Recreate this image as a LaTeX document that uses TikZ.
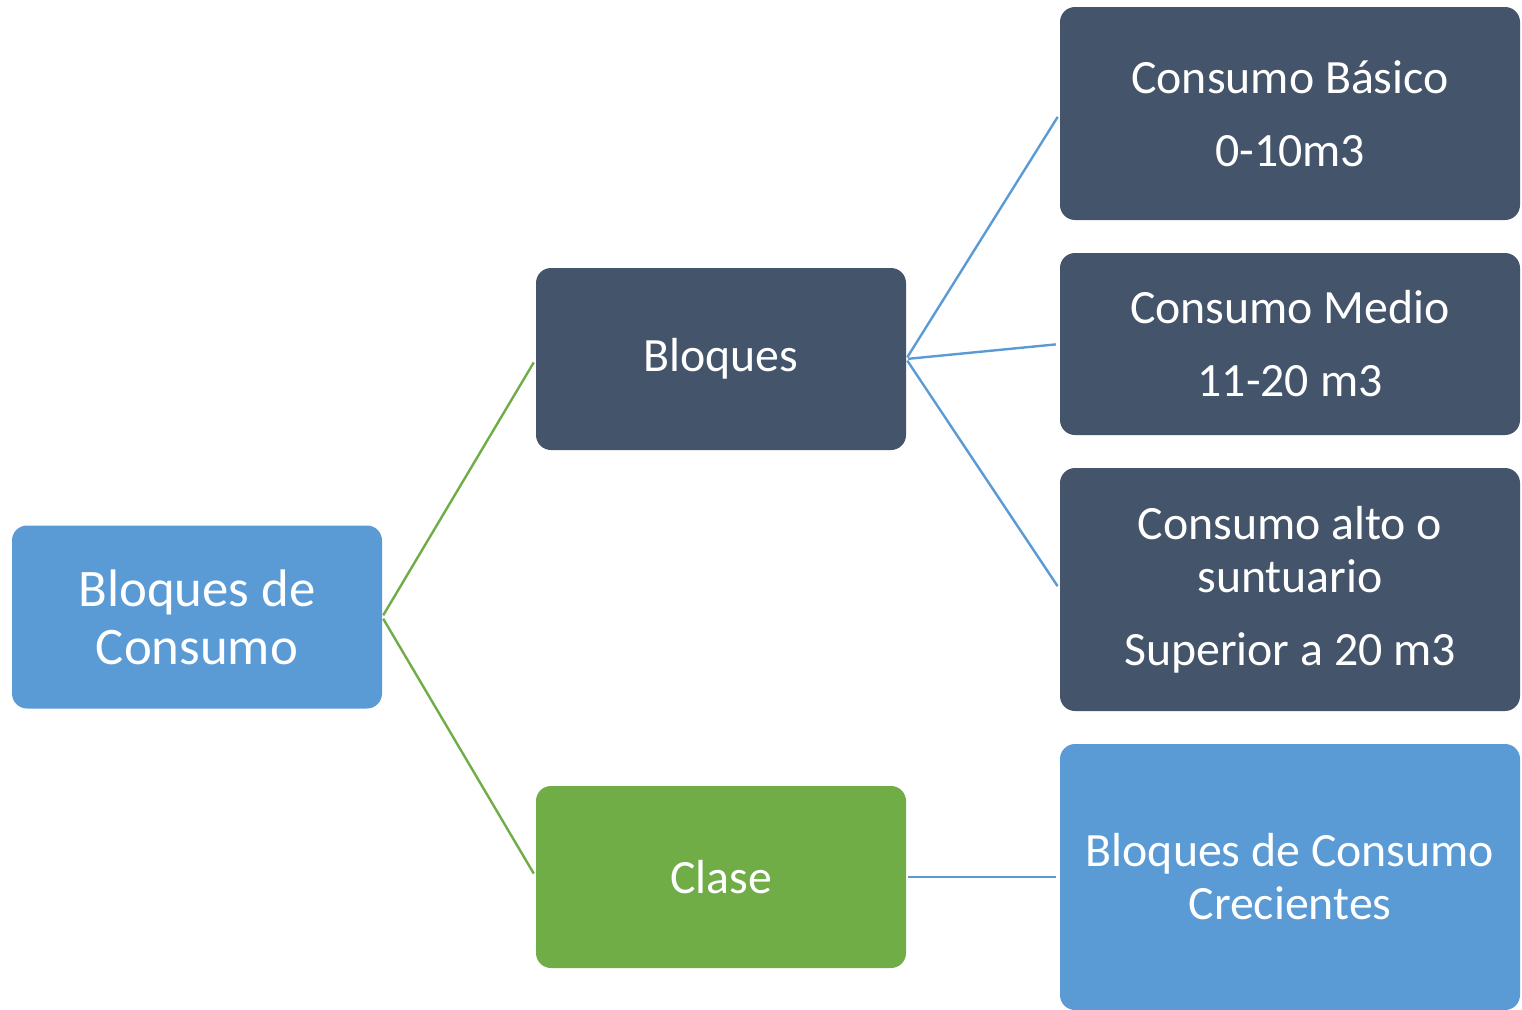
\documentclass[tikz,border=0pt]{standalone}
\usepackage{fontspec}
\setmainfont{Carlito}
\definecolor{darkbox}{HTML}{44546A}
\definecolor{bluebox}{HTML}{5B9BD5}
\definecolor{greenbox}{HTML}{70AD47}
\begin{document}
\begin{tikzpicture}[x=1pt,y=-1pt,
  box/.style={rectangle,rounded corners=15pt,inner sep=0pt,text=white,align=center,
    font=\fontsize{47.8}{53}\selectfont},
  darkb/.style={box,fill=darkbox},
  blueb/.style={box,fill=bluebox},
  greenb/.style={box,fill=greenbox},
  bline/.style={draw=bluebox,line width=2.4pt,shorten <=2pt,shorten >=4pt},
  gline/.style={draw=greenbox,line width=2.4pt,shorten <=2pt,shorten >=4pt}]
\clip (0,0) rectangle (1522,1009);
\fill[white] (0,0) rectangle (1522,1009);
\node[blueb,minimum width=370pt,minimum height=183pt,font=\fontsize{52.8}{58}\selectfont] (root) at (197,617) {Bloques de\\Consumo};
\node[darkb,minimum width=370pt,minimum height=182pt] (bloques) at (721,359) {Bloques};
\node[greenb,minimum width=370pt,minimum height=182pt] (clase) at (721,877) {Clase};
\node[darkb,minimum width=460pt,minimum height=213pt] (basico) at (1290,113.5) {Consumo Básico\\[20pt]0-10m3};
\node[darkb,minimum width=460pt,minimum height=182pt] (medio) at (1290,344) {Consumo Medio\\[20pt]11-20 m3};
\node[darkb,minimum width=460pt,minimum height=243pt] (alto) at (1290,589.5) {Consumo alto o\\suntuario\\[20pt]Superior a 20 m3};
\node[blueb,minimum width=460pt,minimum height=266pt] (crec) at (1290,877) {Bloques de Consumo\\Crecientes};
\draw[gline] (root.east) -- (bloques.west);
\draw[gline] (root.east) -- (clase.west);
\draw[bline] (bloques.east) -- (basico.west);
\draw[bline] (bloques.east) -- (medio.west);
\draw[bline] (bloques.east) -- (alto.west);
\draw[bline] (clase.east) -- (crec.west);
\end{tikzpicture}
\end{document}
